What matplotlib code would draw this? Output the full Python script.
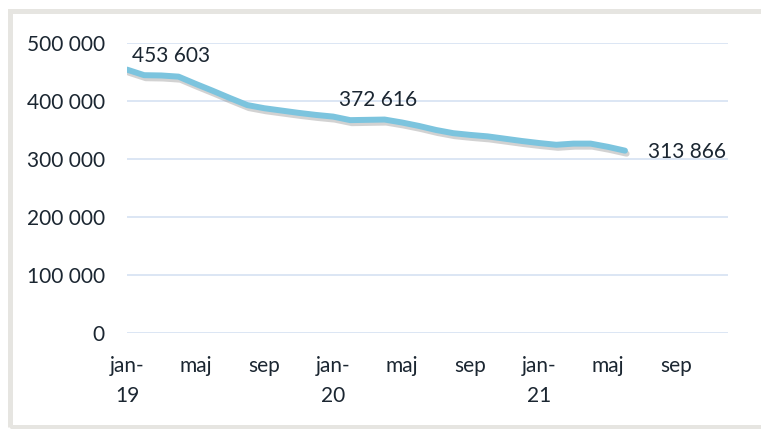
import numpy as np
import matplotlib
matplotlib.use('Agg')
from matplotlib import pyplot as plt
from matplotlib import patheffects as pe
from matplotlib.patches import Rectangle
from matplotlib.ticker import FuncFormatter

# monthly values jan-19 .. jun-21
values = [453603, 444000, 443500, 441500, 429000, 417000, 404500, 392500,
          387000, 383000, 379000, 375500, 372616, 366500, 367000, 367500,
          362500, 356500, 349500, 344000, 341000, 338500, 334500, 330500,
          327000, 324000, 326000, 326000, 320500, 313866]
tick_labels = ['jan-\n19', 'maj', 'sep', 'jan-\n20', 'maj', 'sep',
               'jan-\n21', 'maj', 'sep']
n_months = 36  # axis runs jan-19 .. dec-21
labelled = [0, 12, 29]

plt.rcParams['font.family'] = ['Lato', 'DejaVu Sans']
text_col = '#1b2631'
line_col = '#7cc4de'
grid_col = '#d6e1f2'

fig = plt.figure(figsize=(7.61, 4.29), dpi=100)
fig.patch.set_facecolor('white')
fig.patches.append(Rectangle((9.5 / 761, 2.5 / 429), 1.2, 1 - 13 / 429,
                             transform=fig.transFigure, fill=False,
                             edgecolor='#e6e5e1', linewidth=3.6))

ax = fig.add_axes([127 / 761, 1 - 332.7 / 429, 601 / 761, 290 / 429])
x = np.arange(len(values))
ax.plot(x, values, color=line_col, linewidth=4.3, solid_capstyle='round',
        solid_joinstyle='round',
        path_effects=[pe.SimpleLineShadow(offset=(1.2, -2.2), shadow_color='#808080', alpha=0.35),
                      pe.Normal()])

ax.set_xlim(0, n_months - 1)
ax.set_ylim(0, 500000)
ax.set_yticks(range(0, 500001, 100000))
ax.yaxis.set_major_formatter(FuncFormatter(lambda v, p: f'{v:,.0f}'.replace(',', ' ')))
ax.set_xticks(range(0, n_months, 4))
ax.set_xticklabels(tick_labels, linespacing=1.6)
ax.tick_params(axis='both', length=0, labelsize=15, labelcolor=text_col)
ax.tick_params(axis='y', pad=16)
ax.tick_params(axis='x', pad=17)
ax.grid(axis='y', color=grid_col, linewidth=1.2)
ax.set_axisbelow(True)
for s in ax.spines.values():
    s.set_visible(False)

offsets = {0: ((5, 14), 'left'), 12: ((45, 17), 'center'), 29: ((23, -1), 'left')}
for i in labelled:
    (dx, dy), ha = offsets[i]
    ax.annotate(f'{values[i]:,}'.replace(',', ' '), xy=(i, values[i]),
                xytext=(dx, dy), textcoords='offset pixels', ha=ha, va='center',
                fontsize=15, color=text_col)

fig.savefig('out.png', dpi=100)
